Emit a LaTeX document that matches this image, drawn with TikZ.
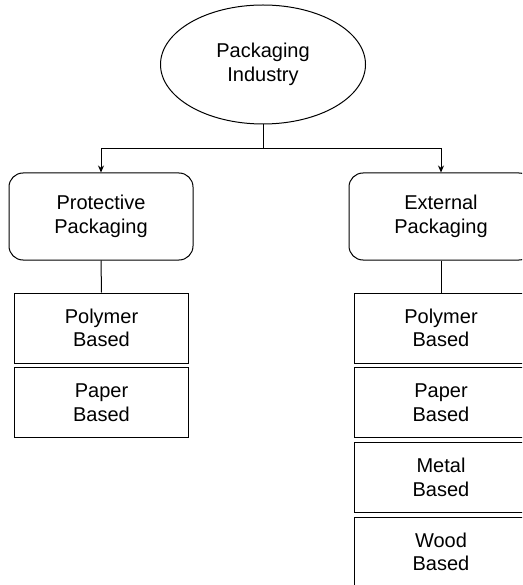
\documentclass[tikz,border=0pt]{standalone}
\usepackage{fontspec}
\setmainfont{Liberation Sans}
\usetikzlibrary{shapes.geometric,arrows.meta}
\begin{document}
\begin{tikzpicture}[x=1pt,y=-1pt,
  every node/.style={font=\fontsize{20}{23.5}\selectfont, align=center, inner sep=0pt},
  line/.style={draw=black, line width=1pt},
  arr/.style={line, -{Stealth[length=7pt,width=6pt]}},
  topbox/.style={line, rectangle, rounded corners=14pt, minimum width=184pt, minimum height=87pt},
  subbox/.style={line, rectangle, minimum width=174pt, minimum height=70pt},
  root/.style={line, ellipse, minimum width=205pt, minimum height=119pt}]
\useasboundingbox (0,0) rectangle (522,585);
\clip (0,0) rectangle (522,585);
\node[root] (ind) at (263,64.5) {Packaging\\Industry};
\coordinate (jn) at (263,149);
\node[topbox] (prot) at (101,216.5) {Protective\\Packaging};
\node[topbox] (ext) at (441,216.5) {External\\Packaging};
\node[subbox] (lpoly) at (101.5,328) {Polymer\\Based};
\node[subbox] (lpaper) at (101.5,402.5) {Paper\\Based};
\node[subbox] (rpoly) at (441,328) {Polymer\\Based};
\node[subbox] (rpaper) at (441,402.5) {Paper\\Based};
\node[subbox] (rmetal) at (441,477.5) {Metal\\Based};
\node[subbox] (rwood) at (441,552) {Wood\\Based};
\draw[line] (ind.south) -- (jn);
\draw[arr] (jn) -| (prot.north);
\draw[arr] (jn) -| (ext.north);
\draw[line] (prot.south) -- (lpoly.north);
\draw[line] (ext.south) -- (rpoly.north);
\end{tikzpicture}
\end{document}
